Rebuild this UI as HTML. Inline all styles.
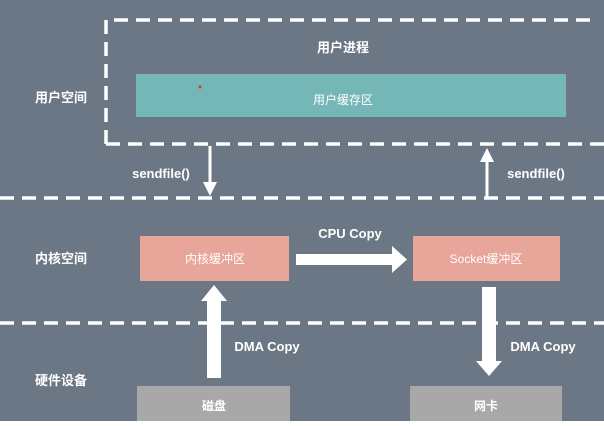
<!DOCTYPE html>
<html><head><meta charset="utf-8"><style>
body{margin:0;width:604px;height:426px;overflow:hidden;background:#fff;font-family:"Liberation Sans","Noto Sans CJK SC",sans-serif}
</style></head><body>
<svg width="604" height="426" xmlns="http://www.w3.org/2000/svg" style="display:block">
<rect x="0" y="0" width="604" height="421" fill="#6c7785"/>
<g stroke="#fff" stroke-width="3.5" fill="none" stroke-dasharray="14,8">
<path d="M106 144 V20 H598"/>
<path d="M106 144 H604"/>
<path d="M0 198 H604"/>
<path d="M0 323 H604"/>
</g>
<rect x="136" y="74" width="430" height="43" fill="#75b7b7"/>
<rect x="140" y="236" width="149" height="45" fill="#e8a599"/>
<rect x="413" y="236" width="147" height="45" fill="#e8a599"/>
<rect x="137" y="386" width="153" height="35" fill="#a8a8a8"/>
<rect x="410" y="386" width="152" height="35" fill="#a8a8a8"/>
<circle cx="200" cy="87" r="1.5" fill="#d33"/>
<g fill="#fff">
<rect x="208.5" y="146" width="3" height="38"/><polygon points="203,182 217,182 210,196"/>
<rect x="485.5" y="160" width="3" height="38"/><polygon points="480,162 494,162 487,148"/>
<rect x="296" y="254" width="97" height="11"/><polygon points="392,246 407,259.5 392,273"/>
<rect x="207" y="300" width="14" height="78"/><polygon points="201,301 227,301 214,285"/>
<rect x="482" y="287" width="14" height="75"/><polygon points="476,361 502,361 489,376"/>
</g>
<g fill="#fff" font-size="13" font-weight="bold" text-anchor="middle">
<text x="343" y="52">用户进程</text>
<text x="343" y="104" font-weight="normal" font-size="12">用户缓存区</text>
<text x="61" y="102">用户空间</text>
<text x="61" y="263">内核空间</text>
<text x="61" y="385">硬件设备</text>
<text x="215" y="263" font-weight="normal" font-size="12">内核缓冲区</text>
<text x="486" y="263" font-weight="normal" font-size="12">Socket缓冲区</text>
<text x="214" y="410" font-size="12">磁盘</text>
<text x="486" y="410" font-size="12">网卡</text>
<text x="161" y="178">sendfile()</text>
<text x="536" y="178">sendfile()</text>
<text x="350" y="238">CPU Copy</text>
<text x="267" y="351">DMA Copy</text>
<text x="543" y="351">DMA Copy</text>
</g>
</svg>
</body></html>
